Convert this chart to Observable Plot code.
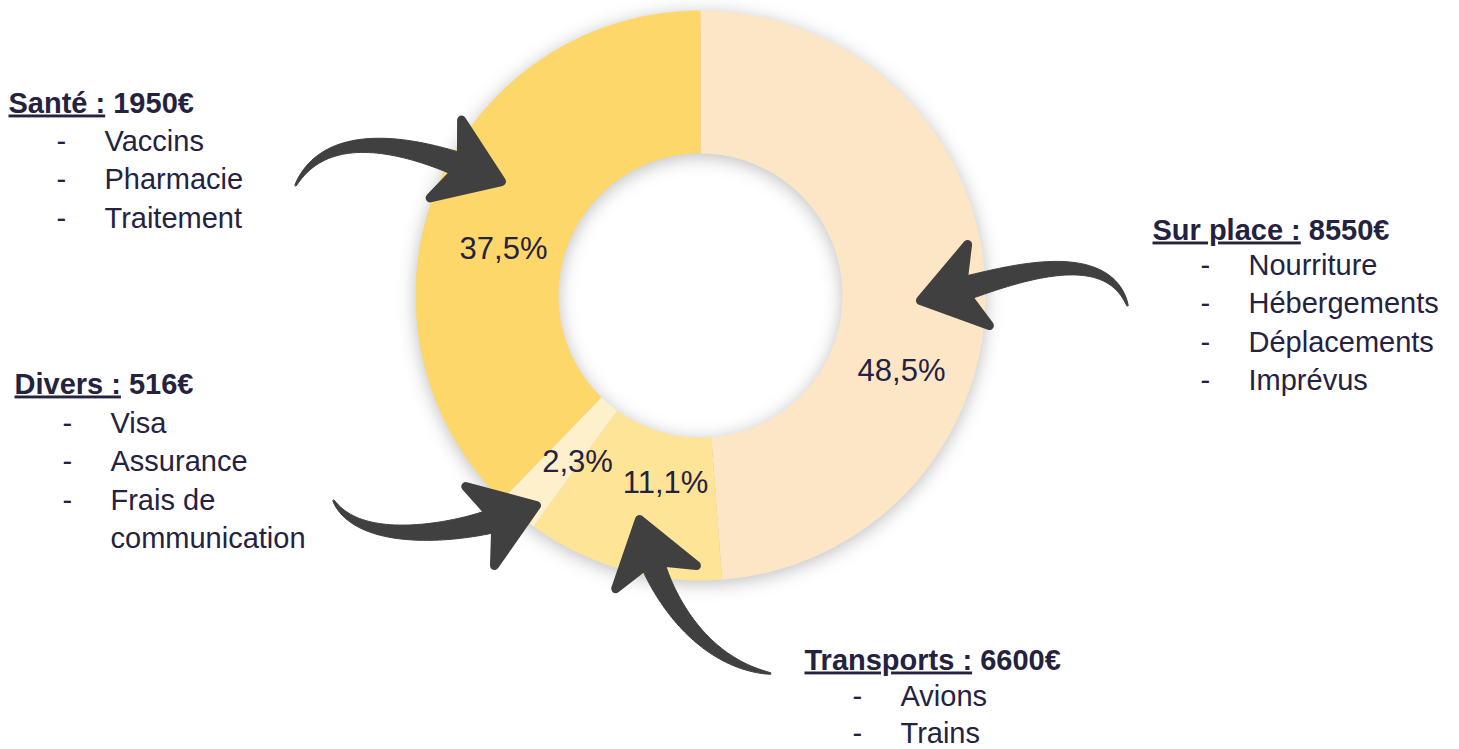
<!DOCTYPE html>
<html><head><meta charset="utf-8">
<script src="https://cdn.jsdelivr.net/npm/d3@7"></script>
<script src="https://cdn.jsdelivr.net/npm/@observablehq/plot@0.6"></script>
<style>html,body{margin:0;padding:0;background:#fff;} svg{display:block;}</style>
</head><body><div id="chart"></div>
<script>
// ---------- data ----------
const categories = ["Sur place", "Transports", "Divers", "Santé"];
const amounts = ["8550€", "6600€", "516€", "1950€"];
const shares = [48.5, 11.1, 2.3, 37.5];
const shareLabels = ["48,5%", "11,1%", "2,3%", "37,5%"];
const itemsSurPlace = ["Nourriture", "Hébergements", "Déplacements", "Imprévus"];
const itemsTransports = ["Avions", "Trains"];
const itemsDivers = ["Visa", "Assurance", "Frais de\ncommunication"];
const itemsSante = ["Vaccins", "Pharmacie", "Traitement"];
const items = [itemsSurPlace, itemsTransports, itemsDivers, itemsSante];
const colors = ["#FDE6C6", "#FEE496", "#FEF0CB", "#FDD76A"];

// ---------- layout ----------
const W = 1459, H = 749;
const center = [700, 295], rOuter = 285, rInner = 142;
const headingAt = [[1152, 239], [804, 669], [14, 393], [8, 112]];
const firstItemDy = [35, 36, 39.5, 38];
const itemStep = [38.6, 37, 38.4, 38.5];
const labelAt = [[901, 380], [665, 492], [577, 471], [503, 258]];
const dashDx = 48, itemDx = 96;
const arrows = [
  {tail: [1127, 305], c1: [1105, 238], tip: [920, 300], angle: 165},
  {tail: [770, 673], c1: [700, 662], tip: [639, 519], angle: -106},
  {tail: [333, 500], c1: [360, 548], tip: [536, 505], angle: -20},
  {tail: [295, 185], c1: [330, 118], tip: [501, 181], angle: 22}
];
const ink = "#25223F", arrowInk = "#404040";
const font = "Liberation Sans, Arial, Helvetica, sans-serif";

// ---------- donut geometry from the shares ----------
const pie = d3.pie().sort(null).startAngle(0).endAngle(2 * Math.PI)(shares);
const pt = (r, a) => ({x: center[0] + r * Math.sin(a), y: center[1] - r * Math.cos(a)});
const donut = [];
pie.forEach((p, i) => {
  const n = Math.max(4, Math.ceil((p.endAngle - p.startAngle) * 60));
  for (let k = 0; k <= n; k++) {
    const a = p.startAngle + (p.endAngle - p.startAngle) * k / n;
    donut.push({cat: categories[i], ...pt(rOuter, a)});
  }
  for (let k = n; k >= 0; k--) {
    const a = p.startAngle + (p.endAngle - p.startAngle) * k / n;
    donut.push({cat: categories[i], ...pt(rInner, a)});
  }
});

// ---------- arrows ----------
const L = 60, HW = 42;
const shafts = [], heads = [];
arrows.forEach((ar, i) => {
  const a = ar.angle * Math.PI / 180;
  const u = [Math.cos(a), Math.sin(a)], nrm = [-u[1], u[0]];
  const B = [ar.tip[0] - 0.55 * L * u[0], ar.tip[1] - 0.55 * L * u[1]];
  const C2 = [B[0] - 45 * u[0], B[1] - 45 * u[1]];
  const P0 = ar.tail, P1 = ar.c1, P2 = C2, P3 = B;
  const left = [], right = [];
  const N = 50;
  for (let k = 0; k <= N; k++) {
    const t = k / N, s = 1 - t;
    const x = s*s*s*P0[0] + 3*s*s*t*P1[0] + 3*s*t*t*P2[0] + t*t*t*P3[0];
    const y = s*s*s*P0[1] + 3*s*s*t*P1[1] + 3*s*t*t*P2[1] + t*t*t*P3[1];
    const dx = 3*s*s*(P1[0]-P0[0]) + 6*s*t*(P2[0]-P1[0]) + 3*t*t*(P3[0]-P2[0]);
    const dy = 3*s*s*(P1[1]-P0[1]) + 6*s*t*(P2[1]-P1[1]) + 3*t*t*(P3[1]-P2[1]);
    const len = Math.hypot(dx, dy) || 1;
    const nx = -dy / len, ny = dx / len;
    const w = (1.5 + 24 * Math.pow(t, 0.8)) / 2;
    left.push({id: "s" + i, x: x + nx * w, y: y + ny * w});
    right.push({id: "s" + i, x: x - nx * w, y: y - ny * w});
  }
  shafts.push(...left, ...right.reverse());
  const T = ar.tip;
  heads.push(
    {id: "h" + i, x: T[0], y: T[1]},
    {id: "h" + i, x: T[0] - L*u[0] + HW*nrm[0], y: T[1] - L*u[1] + HW*nrm[1]},
    {id: "h" + i, x: T[0] - 0.72*L*u[0], y: T[1] - 0.72*L*u[1]},
    {id: "h" + i, x: T[0] - L*u[0] - HW*nrm[0], y: T[1] - L*u[1] - HW*nrm[1]}
  );
});

// ---------- texts ----------
const labelRows = shareLabels.map((t, i) => ({x: labelAt[i][0], y: labelAt[i][1], text: t}));
const headingRows = categories.map((c, i) => ({x: headingAt[i][0], y: headingAt[i][1], text: c + " :", amount: amounts[i]}));
const itemRows = [], dashRows = [];
items.forEach((list, i) => {
  let row = 0;
  list.forEach(it => {
    it.split("\n").forEach((line, j) => {
      const y = headingAt[i][1] + firstItemDy[i] + row * itemStep[i];
      itemRows.push({x: headingAt[i][0] + itemDx, y, text: line});
      if (j === 0) dashRows.push({x: headingAt[i][0] + dashDx, y, text: "-"});
      row++;
    });
  });
});

const chart = Plot.plot({
  width: W, height: H, margin: 0,
  x: {domain: [0, W], range: [0, W], axis: null},
  y: {domain: [0, H], range: [0, H], axis: null},
  color: {domain: categories, range: colors},
  style: {fontFamily: font, background: "#fff"},
  marks: [
    Plot.line(donut, {x: "x", y: "y", z: "cat", fill: "cat", curve: "linear-closed"}),
    Plot.text(labelRows, {x: "x", y: "y", text: "text", fontSize: 31, fill: ink, textAnchor: "middle", lineAnchor: "bottom", fontFamily: font}),
    Plot.line(shafts, {x: "x", y: "y", z: "id", fill: arrowInk, stroke: arrowInk, strokeWidth: 1, curve: "linear-closed"}),
    Plot.line(heads, {x: "x", y: "y", z: "id", fill: arrowInk, stroke: arrowInk, strokeWidth: 9, strokeLinejoin: "round", curve: "linear-closed"}),
    Plot.text(headingRows, {x: "x", y: "y", text: "text", fontSize: 29, fontWeight: "bold", fill: ink, textAnchor: "start", lineAnchor: "bottom", fontFamily: font}),
    Plot.text(dashRows, {x: "x", y: "y", text: "text", fontSize: 29, fill: ink, textAnchor: "start", lineAnchor: "bottom", fontFamily: font}),
    Plot.text(itemRows, {x: "x", y: "y", text: "text", fontSize: 29, fill: ink, textAnchor: "start", lineAnchor: "bottom", fontFamily: font})
  ]
});

const lineGroups = chart.querySelectorAll('g[aria-label="line"]');
if (lineGroups[0]) {
  lineGroups[0].style.filter = "drop-shadow(0px 3px 9px rgba(0,0,0,0.26))";
  lineGroups[0].querySelectorAll("path").forEach(p => p.setAttribute("stroke", "none"));
}
const textGroups = chart.querySelectorAll('g[aria-label="text"]');
if (textGroups[1]) {
  textGroups[1].querySelectorAll("text").forEach((t, i) => {
    const lbl = t.textContent;
    t.textContent = "";
    t.setAttribute("xml:space", "preserve");
    t.style.whiteSpace = "pre";
    const ns = "http://www.w3.org/2000/svg";
    const a = document.createElementNS(ns, "tspan");
    a.textContent = lbl;
    a.setAttribute("text-decoration", "underline");
    a.style.textDecoration = "underline";
    const b = document.createElementNS(ns, "tspan");
    b.textContent = " " + headingRows[i].amount;
    t.appendChild(a); t.appendChild(b);
  });
}
document.getElementById("chart").appendChild(chart);
</script>
</body></html>
